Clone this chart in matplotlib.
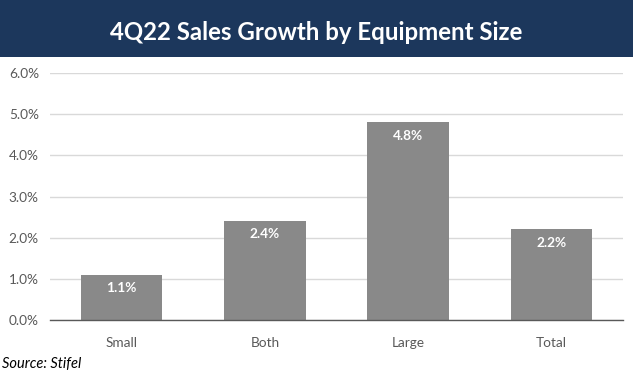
import matplotlib.pyplot as plt
from matplotlib.patches import Rectangle
from matplotlib.ticker import FuncFormatter

# Data
categories = ["Small", "Both", "Large", "Total"]
growth = [1.1, 2.4, 4.8, 2.2]
y_ticks = [0, 1, 2, 3, 4, 5, 6]

plt.rcParams['font.family'] = ['Lato', 'DejaVu Sans']

fig = plt.figure(figsize=(6.33, 3.76), dpi=100)
fig.patch.set_facecolor("white")

# Title banner
fig.patches.append(Rectangle((0, 1 - 57 / 376), 1, 57 / 376, transform=fig.transFigure,
                             facecolor="#1c375c", edgecolor="none", zorder=0))
fig.text(0.5, 1 - 33 / 376, "4Q22 Sales Growth by Equipment Size", color="white",
         fontsize=17.3, fontweight="bold", ha="center", va="center")

ax = fig.add_axes([50 / 633, 56 / 376, 573 / 633, 247 / 376])
bars = ax.bar(categories, growth, width=0.57, color="#898989", zorder=2)
ax.set_ylim(0, 6)
ax.set_xlim(-0.5, len(categories) - 0.5)
ax.set_yticks(y_ticks)
ax.yaxis.set_major_formatter(FuncFormatter(lambda v, p: f"{v:.1f}%"))
ax.grid(axis="y", color="#d9d9d9", linewidth=1, zorder=0)
for s in ["top", "right", "left"]:
    ax.spines[s].set_visible(False)
ax.spines["bottom"].set_color("#595959")
ax.spines["bottom"].set_linewidth(1)
ax.tick_params(axis="both", length=0, labelsize=9.8, colors="#595959", pad=8)
ax.tick_params(axis="x", pad=12)

for b, v in zip(bars, growth):
    ax.text(b.get_x() + b.get_width() / 2, v - 0.32, f"{v:.1f}%", color="white",
            fontsize=9.8, fontweight="bold", ha="center", va="center")

fig.text(2 / 633, 1 - 364 / 376, "Source: Stifel", fontsize=10.5, style="italic",
         color="black", ha="left", va="center")

fig.savefig("out.png", dpi=100)
